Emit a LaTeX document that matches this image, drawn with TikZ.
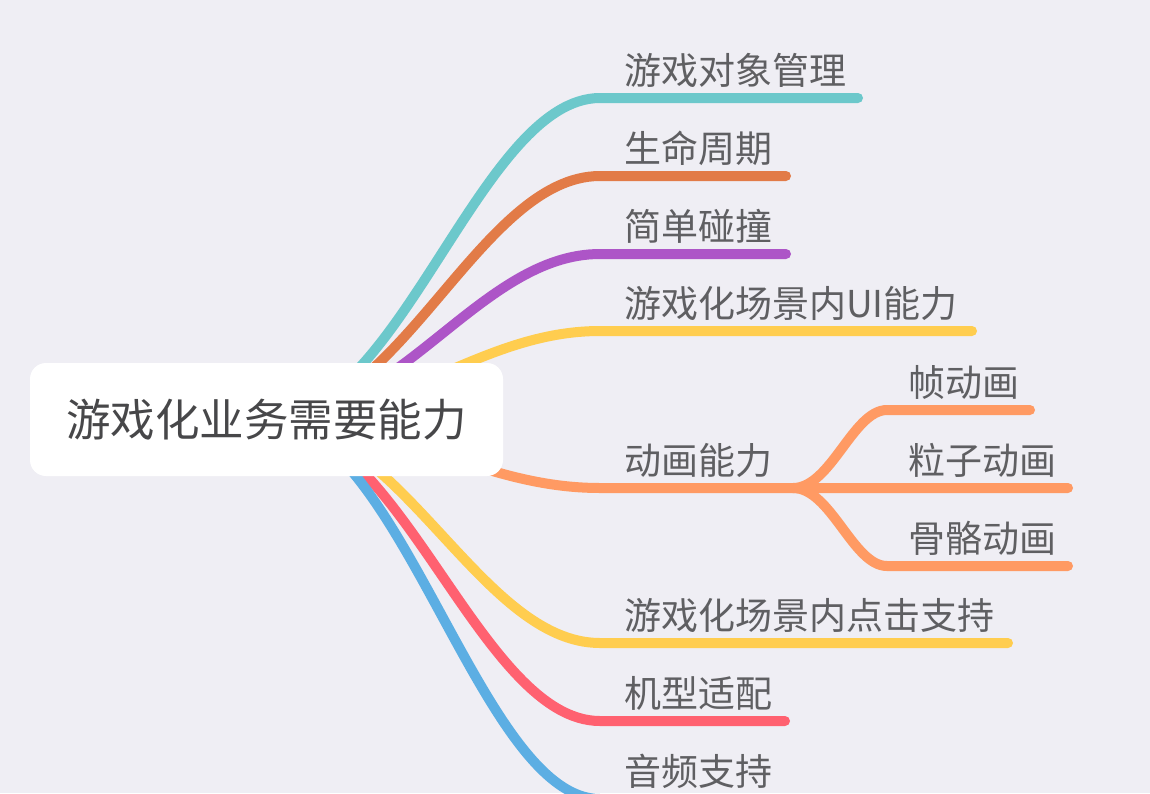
\documentclass[tikz,border=0pt]{standalone}
\usepackage{fontspec}
\setmainfont{Noto Sans CJK SC}
\pgfdeclarelayer{back}
\pgfdeclarelayer{links}
\pgfsetlayers{back,links,main}
\definecolor{bgcol}{HTML}{EFEEF4}
\definecolor{labcol}{HTML}{5F5F62}
\definecolor{rootcol}{HTML}{474749}
\definecolor{cteal}{HTML}{6CC8CB}
\definecolor{clife}{HTML}{E27B47}
\definecolor{cpurple}{HTML}{AD55C7}
\definecolor{cyellow}{HTML}{FFCD4F}
\definecolor{csalmon}{HTML}{FF9A63}
\definecolor{cred}{HTML}{FF6170}
\definecolor{cblue}{HTML}{5CAEE3}
\tikzset{
  link/.style={line width=10pt, line cap=round, line join=round},
  lab/.style={font=\fontsize{37}{41}\selectfont, text=labcol, inner sep=0pt, anchor=base west},
  rootbox/.style={fill=white, rounded corners=16pt, minimum width=473pt, minimum height=113pt,
    font=\fontsize{44.5}{50}\selectfont, text=rootcol, inner sep=0pt}
}
\begin{document}
\begin{tikzpicture}[x=1pt,y=-1pt]
\useasboundingbox (0,0) rectangle (1150,793);
\begin{pgfonlayer}{back}
\fill[bgcol] (0,0) rectangle (1150,793);
\end{pgfonlayer}
\node[rootbox] (root) at (266.5,419.5) {游戏化业务需要能力};
% helper coordinates
\coordinate (ca) at (400,0);
\coordinate (cb) at (480,0);
\coordinate (da) at (831,0);
\coordinate (db) at (853,0);
\coordinate (s1) at (600,98);  \coordinate (e1) at (858,98);
\coordinate (s2) at (600,176); \coordinate (e2) at (786,176);
\coordinate (s3) at (600,254); \coordinate (e3) at (786,254);
\coordinate (s4) at (600,331); \coordinate (e4) at (972,331);
\coordinate (s5) at (600,488); \coordinate (b5) at (793,488);
\coordinate (k1) at (887,410); \coordinate (m1) at (1030,410);
\coordinate (m2) at (1068,488);
\coordinate (k3) at (887,566); \coordinate (m3) at (1068,566);
\coordinate (s6) at (600,643); \coordinate (e6) at (1008,643);
\coordinate (s7) at (600,721); \coordinate (e7) at (785,721);
\coordinate (s8) at (600,799); \coordinate (e8) at (786,799);
% labels
\node[lab] (t1) at (624,84)  {游戏对象管理};
\node[lab] (t2) at (624,162) {生命周期};
\node[lab] (t3) at (624,240) {简单碰撞};
\node[lab] (t4) at (624,317) {游戏化场景内UI能力};
\node[lab] (t5) at (624,474) {动画能力};
\node[lab] (t6) at (624,629) {游戏化场景内点击支持};
\node[lab] (t7) at (624,707) {机型适配};
\node[lab] (t8) at (624,785) {音频支持};
\node[lab] (c1) at (908,396) {帧动画};
\node[lab] (c2) at (908,474) {粒子动画};
\node[lab] (c3) at (908,552) {骨骼动画};
\begin{pgfonlayer}{links}
\draw[link,cteal]   (root.center) .. controls (ca |- root.center) and (cb |- s1) .. (s1) -- (e1);
\draw[link,clife]   (root.center) .. controls (ca |- root.center) and (cb |- s2) .. (s2) -- (e2);
\draw[link,cpurple] (root.center) .. controls (ca |- root.center) and (cb |- s3) .. (s3) -- (e3);
\draw[link,cyellow] (root.center) .. controls (ca |- root.center) and (cb |- s4) .. (s4) -- (e4);
\draw[link,csalmon] (root.center) .. controls (ca |- root.center) and (cb |- s5) .. (s5) -- (b5) -- (m2);
\draw[link,csalmon] (b5) .. controls (da |- b5) and (db |- k1) .. (k1) -- (m1);
\draw[link,csalmon] (b5) .. controls (da |- b5) and (db |- k3) .. (k3) -- (m3);
\draw[link,cyellow] (root.center) .. controls (ca |- root.center) and (cb |- s6) .. (s6) -- (e6);
\draw[link,cred]    (root.center) .. controls (ca |- root.center) and (cb |- s7) .. (s7) -- (e7);
\draw[link,cblue]   (root.center) .. controls (ca |- root.center) and (cb |- s8) .. (s8) -- (e8);
\end{pgfonlayer}
\end{tikzpicture}
\end{document}
